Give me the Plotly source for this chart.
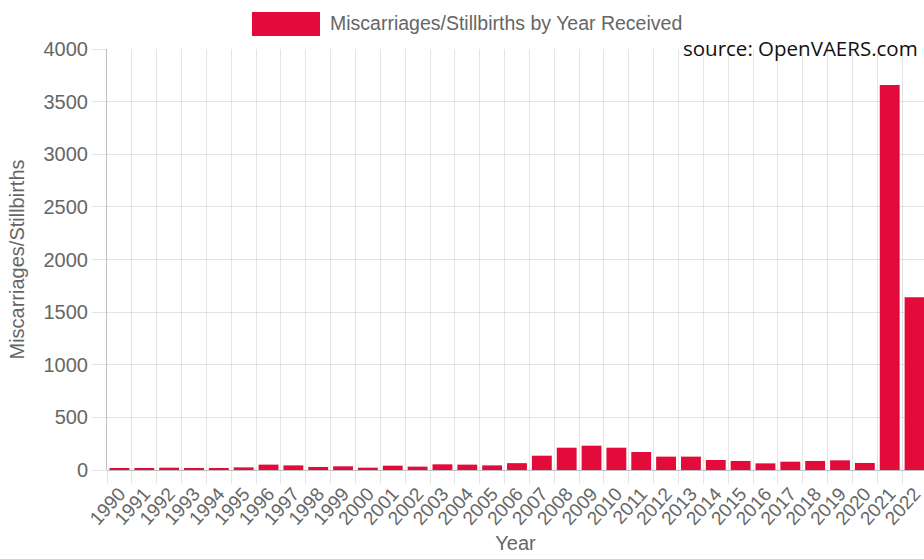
import plotly.graph_objects as go

years = [str(y) for y in range(1990, 2023)]
counts = [10, 13, 22, 19, 19, 25, 51, 44, 29, 35, 22, 41, 32, 54, 51, 44,
          65, 136, 212, 231, 212, 171, 127, 127, 95, 86, 63, 79, 86, 92, 67,
          3658, 1641]
series_name = "Miscarriages/Stillbirths by Year Received"
y_title = "Miscarriages/Stillbirths"
x_title = "Year"
source_text = "source: OpenVAERS.com"

BAR = "#e20b3b"
GREY = "#666666"
GRID = "rgba(0,0,0,0.1)"
AXIS = "rgba(0,0,0,0.25)"

L, R, T, B = 107, 0, 49, 89
W, H = 924, 559
pw = W - L - R
ph = H - T - B

def px(x):
    return (x - L) / pw

def py(y):
    return (H - B - y) / ph

fig = go.Figure()
fig.add_trace(go.Bar(x=years, y=counts, name=series_name,
                     marker=dict(color=BAR, line=dict(width=0)),
                     showlegend=False))

fig.update_layout(
    width=W, height=H,
    margin=dict(l=L, r=R, t=T, b=B, pad=0, autoexpand=False),
    paper_bgcolor="white", plot_bgcolor="white",
    bargap=0.2,
    font=dict(family="Liberation Sans, Arial, sans-serif", color=GREY, size=20),
    xaxis=dict(
        type="category", range=[-0.5, 32.38], automargin=False,
        tickson="boundaries", ticks="outside", ticklen=13, tickcolor=GRID,
        showgrid=True, gridcolor=GRID, gridwidth=1,
        tickangle=-48, tickfont=dict(size=19, color=GREY),
        ticklabelstandoff=8,
        title=dict(text=x_title, font=dict(size=20, color=GREY), standoff=8),
        showline=False, zeroline=False,
    ),
    yaxis=dict(
        range=[0, 4000], dtick=500, ticks="outside", ticklen=14, tickcolor=GRID,
        showgrid=True, gridcolor=GRID, gridwidth=1, automargin=False,
        tickfont=dict(size=20, color=GREY),
        showline=True, linecolor=AXIS, linewidth=1,
        zeroline=True, zerolinecolor=AXIS, zerolinewidth=1,
        title=dict(text=y_title, font=dict(size=20, color=GREY), standoff=13),
    ),
    shapes=[dict(type="rect", xref="paper", yref="paper",
                 x0=px(252), x1=px(320), y0=py(36), y1=py(12),
                 fillcolor=BAR, line=dict(width=0))],
    annotations=[
        dict(text=series_name, xref="paper", yref="paper",
             x=px(328), y=py(23), xanchor="left", yanchor="middle",
             showarrow=False, font=dict(size=19.5, color=GREY)),
        dict(text=source_text, xref="paper", yref="paper",
             x=px(920), y=py(48), xanchor="right", yanchor="middle",
             showarrow=False,
             font=dict(family="Open Sans, sans-serif", size=20.5, color="#111111")),
    ],
)

fig.write_html("out.html", config={"displayModeBar": False},
               post_script="document.body.style.margin='0';document.body.style.overflow='hidden';")
